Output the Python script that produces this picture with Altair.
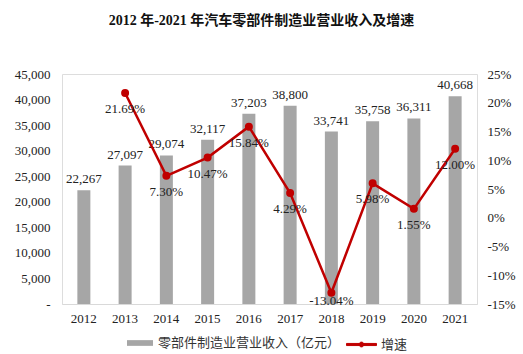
import altair as alt
import pandas as pd

years = ["2012", "2013", "2014", "2015", "2016", "2017", "2018", "2019", "2020", "2021"]
revenue = [22267, 27097, 29074, 32117, 37203, 38800, 33741, 35758, 36311, 40668]
growth = [None, 21.69, 7.30, 10.47, 15.84, 4.29, -13.04, 5.98, 1.55, 12.00]
bar_name = "零部件制造业营业收入（亿元）"
line_name = "增速"

df = pd.DataFrame({"year": years, "revenue": revenue, "growth": growth})

FONT = "Liberation Serif, Noto Sans CJK SC"
GRAY = "#A6A6A6"
RED = "#C00000"

x = alt.X("year:N", title=None, sort=years,
          scale=alt.Scale(paddingInner=0.68, paddingOuter=0.37),
          axis=alt.Axis(labelAngle=0, ticks=False, domainColor="#D9D9D9",
                        labelPadding=8, labelFontSize=13, labelFont=FONT,
                        labelColor="#222222"))

ybar = alt.Y("revenue:Q", title=None,
             scale=alt.Scale(domain=[0, 45000]),
             axis=alt.Axis(values=list(range(0, 45001, 5000)), grid=False, ticks=False,
                           domain=False, labelPadding=12, labelFontSize=13, labelFont=FONT,
                           labelColor="#222222",
                           labelExpr="datum.value == 0 ? '-' : format(datum.value, ',')"))

base = alt.Chart(df)

bars = base.transform_calculate(s1=f"'{bar_name}'").mark_bar(size=13).encode(
    x=x, y=ybar,
    color=alt.Color("s1:N", scale=alt.Scale(range=[GRAY]),
                    legend=alt.Legend(title=None, orient="none", legendX=64, legendY=255,
                                      symbolType="M-1,-0.22H1V0.22H-1Z", symbolSize=676,
                                      labelFont=FONT, labelFontSize=13, labelColor="#333333",
                                      labelOffset=4, labelLimit=0)))

btext = base.mark_text(baseline="bottom", dy=-4, fontSize=13, font=FONT, color="#222222").encode(
    x=x, y=ybar, text=alt.Text("revenue:Q", format=","))

yline = alt.Y("growth:Q", title=None, scale=alt.Scale(domain=[-15, 25]),
              axis=alt.Axis(orient="right", values=list(range(-15, 26, 5)), grid=False,
                            ticks=False, domain=False, labelPadding=10, labelFontSize=13,
                            labelFont=FONT, labelColor="#222222", labelAlign="left",
                            labelExpr="datum.value + '%'"))

lbase = base.transform_filter("datum.growth != null").transform_calculate(
    s2=f"'{line_name}'",
    lab="(datum.growth < 0 ? '-' : '') + format(abs(datum.growth), '.2f') + '%'")

line = lbase.mark_line(strokeWidth=2.5, point=alt.OverlayMarkDef(filled=True, size=36, color=RED)).encode(
    x=x, y=yline,
    stroke=alt.Stroke("s2:N", scale=alt.Scale(range=[RED]),
                      legend=alt.Legend(title=None, orient="none", legendX=284, legendY=255,
                                        symbolType="M-1,-0.07H1V0.07H-1Z M0.16,0A0.16,0.16 0 1,1 -0.16,0A0.16,0.16 0 1,1 0.16,0Z",
                                        symbolSize=900, symbolFillColor=RED, symbolStrokeColor=RED,
                                        symbolStrokeWidth=1,
                                        labelFont=FONT, labelFontSize=13, labelColor="#333333",
                                        labelOffset=4, labelLimit=0)))

ltext1 = lbase.transform_filter("datum.growth > -10").mark_text(
    baseline="middle", dy=16, fontSize=13, font=FONT, color="#222222").encode(
    x=x, y=yline, text="lab:N")
ltext2 = lbase.transform_filter("datum.growth <= -10").mark_text(
    baseline="middle", dy=8, fontSize=13, font=FONT, color="#222222").encode(
    x=x, y=yline, text="lab:N")

chart = alt.layer(
    alt.layer(bars, btext),
    alt.layer(line, ltext1, ltext2),
).resolve_scale(y="independent", color="independent", stroke="independent").properties(
    width=415, height=230,
    autosize=alt.AutoSizeParams(type="none"),
    padding={"left": 62, "top": 74, "right": 46, "bottom": 50},
    title=alt.Title("2012 年-2021 年汽车零部件制造业营业收入及增速", font=FONT, fontSize=14,
                    fontWeight="bold", color="#111111", anchor="middle", offset=40, dx=-8),
).configure_view(stroke=None).configure(background="white")

chart.save("out.html", embed_options={"renderer": "svg", "actions": False})
